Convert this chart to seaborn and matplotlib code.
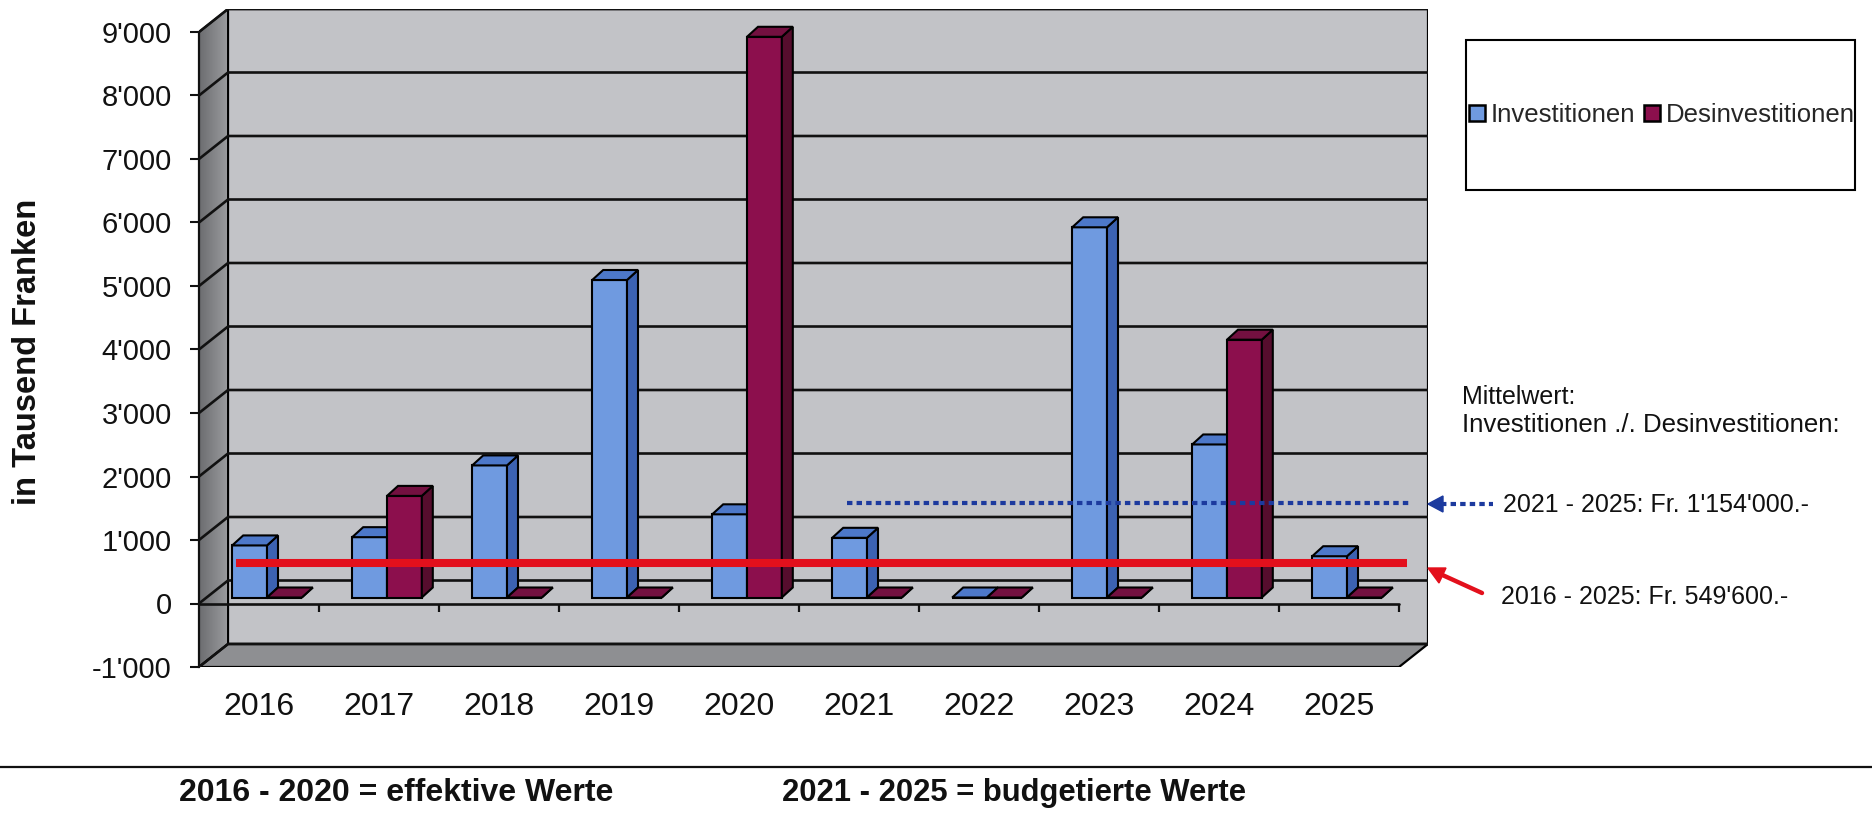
import matplotlib
matplotlib.use("Agg")
import matplotlib.pyplot as plt
import numpy as np
import pandas as pd
import seaborn as sns
from matplotlib.patches import Polygon, Rectangle, Patch
from matplotlib.lines import Line2D
from matplotlib.ticker import FuncFormatter

# ---- data (in thousand francs) ----
years = ["2016", "2017", "2018", "2019", "2020", "2021", "2022", "2023", "2024", "2025"]
investitionen = [820, 950, 2080, 5000, 1310, 940, 0, 5830, 2410, 650]
desinvestitionen = [0, 1600, 0, 0, 8830, 0, 0, 0, 4060, 0]
series_names = ["Investitionen", "Desinvestitionen"]
y_ticks = [-1000, 0, 1000, 2000, 3000, 4000, 5000, 6000, 7000, 8000, 9000]
mean_2016_2025 = 549.6
mean_2021_2025 = 1154.0
mean_title = ["Mittelwert:", "Investitionen ./. Desinvestitionen:"]
mean_labels = ["2021 - 2025: Fr. 1'154'000.-", "2016 - 2025: Fr. 549'600.-"]
footnotes = ["2016 - 2020 = effektive Werte", "2021 - 2025 = budgetierte Werte"]
y_label = "in Tausend Franken"

front_colors = {"Investitionen": "#6f9ae0", "Desinvestitionen": "#8c0f4d"}
side_colors = {"Investitionen": "#3c62b2", "Desinvestitionen": "#560d2d"}
top_colors = {"Investitionen": "#4d78c9", "Desinvestitionen": "#731040"}

df = pd.DataFrame({
    "Jahr": years * 2,
    "Art": [series_names[0]] * len(years) + [series_names[1]] * len(years),
    "Wert": investitionen + desinvestitionen,
})

sns.set_theme(style="white")
plt.rcParams["font.family"] = ["Liberation Sans", "DejaVu Sans"]

W, H = 1872, 813
fig = plt.figure(figsize=(W / 100, H / 100), dpi=100)
fig.patch.set_facecolor("white")


def fx(px):
    return px / W


def fy(py):
    return 1 - py / H


ax = fig.add_axes([fx(199), 146 / H, 1229 / W, 658 / H])

sns.barplot(data=df, x="Jahr", y="Wert", hue="Art", palette=front_colors,
            width=0.58, dodge=True, saturation=1, edgecolor="black",
            linewidth=1.5, legend=False, ax=ax)

# depth of the 3-D box (back wall offset) in data units
DX = 29 / 120
DY = 23 / 63.5 * 1000
# bars stand slightly behind the front plane and have their own depth
SX, SY = 8 / 120, 6 / 63.5 * 1000
BX, BY = 11 / 120, 10 / 63.5 * 1000

# back wall, left wall (shaded) and floor
ax.add_patch(Rectangle((-0.5 + DX, -1000 + DY), 10, 10000, fc="#c2c3c7",
                       ec="black", lw=1.6, zorder=0))
left_wall = Polygon([(-0.5, -1000), (-0.5, 9000), (-0.5 + DX, 9000 + DY),
                     (-0.5 + DX, -1000 + DY)], closed=True, fc="none",
                    ec="black", lw=1.4, zorder=0.55)
ax.add_patch(left_wall)
shade = np.linspace(0, 1, 64).reshape(1, -1)
img = ax.imshow(shade, cmap=matplotlib.colors.LinearSegmentedColormap.from_list(
    "wall", ["#6c6d70", "#9a9b9e"]), extent=(-0.5, -0.5 + DX, -1000, 9000 + DY),
    aspect="auto", zorder=0.5, interpolation="bilinear")
img.set_clip_path(left_wall)
ax.add_patch(Polygon([(-0.5, -1000), (9.5, -1000), (9.5 + DX, -1000 + DY),
                      (-0.5 + DX, -1000 + DY)], closed=True, fc="#8e8f92",
                     ec="black", lw=1.6, zorder=0.6))
ax.set_xlim(-0.5, 9.5 + DX)
ax.set_ylim(-1000, 9000 + DY)
ax.set_facecolor("none")

# gridlines running over the left wall and the back wall
for t in y_ticks:
    ax.plot([-0.5, -0.5 + DX, 9.5 + DX], [t, t + DY, t + DY],
            color="#111111", lw=1.9, zorder=1, solid_capstyle="butt")

# category axis at zero with tick marks between the years
ax.plot([-0.5, 9.5], [0, 0], color="#111111", lw=1.9, zorder=2)
ax.vlines(np.arange(0.5, 10, 1.0), -140, 0, color="#111111", lw=1.6, zorder=2)

# give every bar a side and a top face
for i, (name, container) in enumerate(zip(series_names, ax.containers)):
    for k, p in enumerate(container.patches):
        z = 3 + k * 0.01 + i * 0.005
        p.set_x(p.get_x() + SX)
        p.set_y(SY)
        p.set_zorder(z)
        x0 = p.get_x()
        x1 = x0 + p.get_width()
        y0 = SY
        y1 = SY + p.get_height()
        ax.add_patch(Polygon([(x1, y0), (x1, y1), (x1 + BX, y1 + BY), (x1 + BX, y0 + BY)],
                             closed=True, fc=side_colors[name], ec="black", lw=1.5,
                             zorder=z + 0.001))
        ax.add_patch(Polygon([(x0, y1), (x1, y1), (x1 + BX, y1 + BY), (x0 + BX, y1 + BY)],
                             closed=True, fc=top_colors[name], ec="black", lw=1.5,
                             zorder=z + 0.002))

# average lines
ax.plot([-0.26 + SX, 9.5 + SX], [mean_2016_2025 + SY] * 2, color="#e3101c",
        lw=5.8, solid_capstyle="butt", zorder=10)
ax.plot([4.66 + DX, 9.34 + DX], [mean_2021_2025 + DY + 60] * 2, color="#1c3a9e",
        lw=3.0, dashes=(1.3, 1.0), dash_capstyle="butt", zorder=10)

# axes styling
for side in ["top", "right", "bottom"]:
    ax.spines[side].set_visible(False)
ax.spines["left"].set_bounds(-1000, 9000)
ax.spines["left"].set_color("#111111")
ax.spines["left"].set_linewidth(1.6)
ax.set_yticks(y_ticks)
ax.yaxis.set_major_formatter(FuncFormatter(lambda v, _: f"{int(v):,}".replace(",", "'")))
ax.tick_params(axis="y", length=6.5, width=1.5, pad=13, labelsize=21,
               direction="out", left=True, colors="#111111")
ax.set_xticks(range(len(years)))
ax.set_xticklabels(years)
ax.tick_params(axis="x", length=0, pad=18, labelsize=23, colors="#111111")
ax.set_xlabel("")
ax.set_ylabel("")
ax.grid(False)

fig.text(fx(28), fy(352), y_label, rotation=90, ha="center", va="center",
         fontsize=23.5, fontweight="bold", color="#111111")

# legend in a framed box
fig.add_artist(Rectangle((fx(1466), fy(190)), fx(389), 150 / H, transform=fig.transFigure,
                         fc="white", ec="black", lw=1.5, zorder=1))
handles = [Patch(fc=front_colors[n], ec="black", lw=1.8) for n in series_names]
leg = fig.legend(handles, series_names, loc="center left",
                 bbox_to_anchor=(fx(1469), fy(115)), frameon=False, ncol=2,
                 fontsize=18.5, handlelength=0.62, handleheight=0.62,
                 handletextpad=0.22, columnspacing=0.35, borderpad=0, borderaxespad=0)
leg.set_zorder(2)

# average annotations
fig.text(fx(1462), fy(397), mean_title[0], ha="left", va="center", fontsize=18, color="#111111")
fig.text(fx(1462), fy(425), mean_title[1], ha="left", va="center", fontsize=18.6, color="#111111")
fig.text(fx(1503), fy(505), mean_labels[0], ha="left", va="center", fontsize=18, color="#111111")
fig.text(fx(1501), fy(597), mean_labels[1], ha="left", va="center", fontsize=18, color="#111111")

# blue dotted pointer
fig.add_artist(Line2D([fx(1441), fx(1493)], [fy(504)] * 2, color="#1c3a9e", lw=3.0,
                      dashes=(1.3, 1.0), dash_capstyle="butt"))
fig.add_artist(Polygon([(fx(1428), fy(504)), (fx(1443), fy(496)), (fx(1443), fy(512))],
                       closed=True, transform=fig.transFigure, fc="#1c3a9e", ec="#1c3a9e"))
# red pointer
fig.add_artist(Line2D([fx(1438), fx(1482)], [fy(573), fy(593)], color="#e3101c", lw=3.2))
fig.add_artist(Polygon([(fx(1428), fy(568)), (fx(1446), fy(568)), (fx(1439), fy(583))],
                       closed=True, transform=fig.transFigure, fc="#e3101c", ec="#e3101c"))

# footer
fig.add_artist(Line2D([0, 1], [fy(767)] * 2, color="#111111", lw=1.6))
fig.text(fx(179), fy(793), footnotes[0], ha="left", va="center", fontsize=23,
         fontweight="bold", color="#111111")
fig.text(fx(782), fy(793), footnotes[1], ha="left", va="center", fontsize=22.3,
         fontweight="bold", color="#111111")

fig.savefig("out.png", dpi=100, facecolor="white")
